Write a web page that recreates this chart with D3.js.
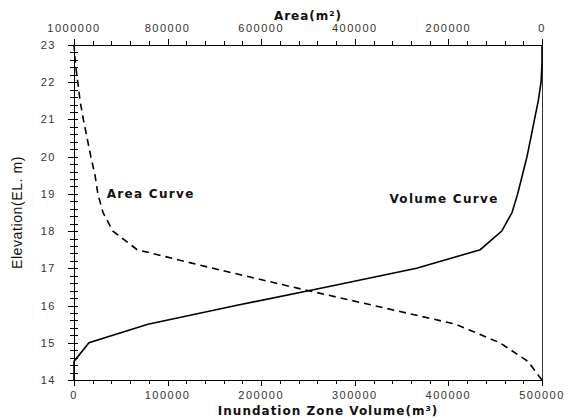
<!DOCTYPE html>
<html lang="en">
<head>
    <meta charset="UTF-8">
    <script src="https://cdn.jsdelivr.net/npm/d3@7"></script>
    <title>Area / Volume curve</title>
    <style>
        body { margin: 0; background: #fff; }
        .tick-label {
            font-family: "Liberation Sans", Arial, sans-serif;
            font-size: 11px;
            letter-spacing: 1.5px;
            fill: #333;
        }
        .axis-title {
            font-family: "DejaVu Sans", sans-serif;
            font-weight: bold;
            font-size: 12px;
            letter-spacing: 1px;
            fill: #111;
        }
        .curve-label {
            font-family: "DejaVu Sans", sans-serif;
            font-weight: bold;
            font-size: 12px;
            letter-spacing: 1.3px;
            fill: #111;
        }
    </style>
</head>
<body>
    <script>
        // elevation steps (EL. m)
        const elevation = [14, 14.5, 15, 15.5, 16, 16.5, 17, 17.5, 18, 18.5, 19, 19.5, 20, 20.5, 21, 21.5, 22, 22.5, 23]
        // inundation zone volume (m3) - solid line, bottom axis
        const volume = [0, 0, 16000, 79000, 173000, 270000, 366000, 434000, 457000, 468000, 474000, 479000, 484000, 488000, 492000, 496000, 499000, 500000, 500000]
        // area (m2) - dashed line, top axis (reversed)
        const area = [0, 30000, 90000, 185000, 359000, 534000, 703000, 865000, 917000, 938000, 949000, 955000, 964000, 972000, 980000, 987000, 992000, 997000, 1000000]

        const volumeTicks = [0, 100000, 200000, 300000, 400000, 500000]
        const areaTicks = [1000000, 800000, 600000, 400000, 200000, 0]
        const elevTicks = [14, 15, 16, 17, 18, 19, 20, 21, 22, 23]

        const width = 571, height = 418
        const margin = {top: 45, right: 29, bottom: 38, left: 74}

        const svg = d3.select("body").append("svg")
            .attr("width", width)
            .attr("height", height)

        const x = d3.scaleLinear().domain([0, 500000]).range([margin.left, width - margin.right])
        const xTop = d3.scaleLinear().domain([1000000, 0]).range([margin.left, width - margin.right])
        const y = d3.scaleLinear().domain([14, 23]).range([height - margin.bottom, margin.top])

        const x0 = x.range()[0], x1 = x.range()[1]
        const y0 = y.range()[0], y1 = y.range()[1]

        // minor tick values
        const minorBottom = d3.range(0, 500001, 20000)
        const minorTop = d3.range(0, 1000001, 40000)
        const minorLeft = d3.range(14, 23.001, 0.2).map(v => +v.toFixed(1))

        const axes = svg.append("g").attr("stroke", "#000").attr("stroke-width", 1)

        // frame lines
        axes.append("line").attr("x1", x0).attr("x2", x1).attr("y1", y0 + 0.5).attr("y2", y0 + 0.5)
        axes.append("line").attr("x1", x0).attr("x2", x1).attr("y1", y1 + 0.5).attr("y2", y1 + 0.5)
        axes.append("line").attr("x1", x0 + 0.5).attr("x2", x0 + 0.5).attr("y1", y1).attr("y2", y0)
        axes.append("line").attr("x1", x1 + 0.5).attr("x2", x1 + 0.5).attr("y1", y1).attr("y2", y0)
            .attr("stroke", "#333")

        // bottom ticks
        axes.selectAll(".tb").data(minorBottom).join("line")
            .attr("x1", d => Math.round(x(d)) + 0.5).attr("x2", d => Math.round(x(d)) + 0.5)
            .attr("y1", y0).attr("y2", d => y0 + (d % 100000 === 0 ? 6 : 4))
        // top ticks
        axes.selectAll(".tt").data(minorTop).join("line")
            .attr("x1", d => Math.round(xTop(d)) + 0.5).attr("x2", d => Math.round(xTop(d)) + 0.5)
            .attr("y1", y1).attr("y2", d => y1 - (d % 200000 === 0 ? 6 : 4))
        // left ticks (crossing)
        axes.selectAll(".tl").data(minorLeft).join("line")
            .attr("y1", d => Math.round(y(d)) + 0.5).attr("y2", d => Math.round(y(d)) + 0.5)
            .attr("x1", d => x0 - (Number.isInteger(d) ? 6 : 4)).attr("x2", x0 + 4)

        // tick labels
        svg.selectAll(".lb").data(volumeTicks).join("text")
            .attr("class", "tick-label")
            .attr("x", d => x(d)).attr("y", y0 + 19)
            .attr("text-anchor", "middle")
            .text(d => d)
        svg.selectAll(".lt").data(areaTicks).join("text")
            .attr("class", "tick-label")
            .attr("x", d => xTop(d)).attr("y", y1 - 13)
            .attr("text-anchor", "middle")
            .text(d => d)
        svg.selectAll(".ll").data(elevTicks).join("text")
            .attr("class", "tick-label")
            .attr("x", x0 - 18).attr("y", d => y(d) + 4)
            .attr("text-anchor", "end")
            .text(d => d)

        // axis titles
        svg.append("text").attr("class", "axis-title")
            .attr("x", (x0 + x1) / 2).attr("y", 20)
            .attr("text-anchor", "middle")
            .text("Area(m²)")
        svg.append("text").attr("class", "axis-title")
            .attr("x", (x0 + x1) / 2 + 20).attr("y", 415)
            .attr("text-anchor", "middle")
            .text("Inundation Zone Volume(m³)")
        svg.append("text")
            .attr("transform", `translate(22,${(y0 + y1) / 2}) rotate(-90)`)
            .attr("text-anchor", "middle")
            .style("font-family", "'Liberation Sans Narrow', 'Liberation Sans', sans-serif")
            .style("font-size", "14px")
            .style("letter-spacing", "0.6px")
            .attr("fill", "#111")
            .text("Elevation(EL. m)")

        // curves
        const volLine = d3.line()
            .x((d, i) => x(volume[i]))
            .y(d => y(d))
        const areaLine = d3.line()
            .x((d, i) => xTop(area[i]))
            .y(d => y(d))

        svg.append("path")
            .attr("d", volLine(elevation))
            .attr("fill", "none")
            .attr("stroke", "#000")
            .attr("stroke-width", 1.6)

        svg.append("path")
            .attr("d", areaLine(elevation))
            .attr("fill", "none")
            .attr("stroke", "#000")
            .attr("stroke-width", 1.6)
            .attr("stroke-dasharray", "7,5")

        // curve labels
        svg.append("text").attr("class", "curve-label")
            .attr("x", xTop(930000)).attr("y", y(19) + 4)
            .text("Area Curve")
        svg.append("text").attr("class", "curve-label")
            .attr("x", x(337000)).attr("y", y(18.85) + 4)
            .text("Volume Curve")
    </script>
</body>
</html>
